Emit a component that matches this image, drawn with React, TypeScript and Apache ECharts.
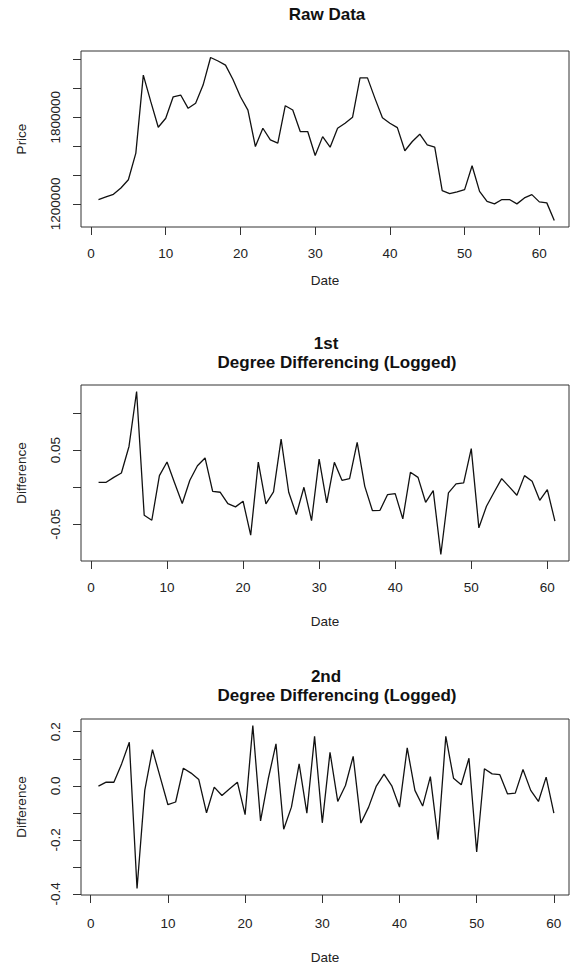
import React, { useEffect, useRef } from "react";
import * as echarts from "echarts";

// Raw monthly prices (index 1..62)
const rawPrice: number[] = [
  1230000, 1248000, 1266000, 1310000, 1367000, 1552000, 2092000, 1908000, 1731000, 1793000,
  1942000, 1954000, 1862000, 1897000, 2023000, 2214000, 2190000, 2161000, 2062000, 1942000,
  1850000, 1597000, 1724000, 1643000, 1621000, 1880000, 1850000, 1701000, 1701000, 1535000,
  1666000, 1593000, 1724000, 1759000, 1800000, 2073000, 2073000, 1931000, 1797000, 1759000,
  1728000, 1568000, 1632000, 1683000, 1609000, 1593000, 1292000, 1271000, 1283000, 1299000,
  1464000, 1287000, 1218000, 1200000, 1230000, 1230000, 1200000, 1241000, 1264000, 1214000,
  1207000, 1085000,
];

// 1st degree differencing of logged prices (index 1..61)
const diff1: number[] = [
  0.0067, 0.0067, 0.0134, 0.0193, 0.055, 0.129, -0.0376, -0.0444, 0.0157, 0.034,
  0.0059, -0.0219, 0.0094, 0.029, 0.0395, -0.0054, -0.0067, -0.0219, -0.0264, -0.0188,
  -0.0645, 0.034, -0.0223, -0.0062, 0.065, -0.0067, -0.0367, 0.0, -0.0448, 0.038,
  -0.021, 0.0336, 0.0094, 0.0117, 0.0605, 0.0013, -0.0313, -0.031, -0.0098, -0.0085,
  -0.0425, 0.0202, 0.0134, -0.0202, -0.0044, -0.0905, -0.0076, 0.0045, 0.0059, 0.052,
  -0.0546, -0.0255, -0.0067, 0.0117, 0.0005, -0.0108, 0.0157, 0.0081, -0.0175, -0.0031,
  -0.0457,
];

// 2nd degree differencing of logged prices (index 1..60)
const diff2: number[] = [
  -0.001, 0.0135, 0.013, 0.081, 0.161, -0.38, -0.017, 0.134, 0.032, -0.07,
  -0.06, 0.065, 0.047, 0.023, -0.1, -0.005, -0.036, -0.011, 0.0135, -0.107,
  0.223, -0.13, 0.026, 0.155, -0.161, -0.079, 0.081, -0.101, 0.183, -0.137,
  0.124, -0.058, 0.001, 0.109, -0.138, -0.079, -0.001, 0.043, 0.0, -0.079,
  0.14, -0.017, -0.075, 0.034, -0.199, 0.183, 0.028, 0.004, 0.102, -0.245,
  0.063, 0.044, 0.041, -0.03, -0.027, 0.06, -0.017, -0.058, 0.032, -0.101,
];

const xTicks: number[] = [0, 10, 20, 30, 40, 50, 60];
const priceTicks: number[] = [1200000, 1400000, 1600000, 1800000, 2000000, 2200000];
const priceLabels: number[] = [1200000, 1800000];
const diff1Ticks: number[] = [-0.05, 0, 0.05, 0.1];
const diff1Labels: number[] = [-0.05, 0.05];
const diff2Ticks: number[] = [-0.4, -0.3, -0.2, -0.1, 0, 0.1, 0.2];
const diff2Labels: number[] = [-0.4, -0.2, 0, 0.2];

const FONT = "'Liberation Sans', Arial, Helvetica, sans-serif";
const TXT = "#222";

// R style axis extension: range +/- 4%
function rng(vals: number[]) {
  const lo = Math.min(...vals);
  const hi = Math.max(...vals);
  const e = (hi - lo) * 0.04;
  return { min: lo - e, max: hi + e };
}

export default function App() {
  const ref = useRef<HTMLDivElement>(null);

  useEffect(() => {
    if (!ref.current) return;
    const chart = echarts.init(ref.current, undefined, { renderer: "svg" });

    const panels = [
      { data: rawPrice, top: 51, xMin: -1.34, xMax: 63.97, yTicks: priceTicks, yLabels: priceLabels, yName: "Price", fmt: (v: number) => String(Math.round(v)), xNameGap: 46, xLabMargin: 19 },
      { data: diff1, top: 385, xMin: -1.31, xMax: 62.85, yTicks: diff1Ticks, yLabels: diff1Labels, yName: "Difference", fmt: (v: number) => v.toFixed(2), xNameGap: 53, xLabMargin: 19 },
      { data: diff2, top: 719, xMin: -1.26, xMax: 61.96, yTicks: diff2Ticks, yLabels: diff2Labels, yName: "Difference", fmt: (v: number) => v.toFixed(1), xNameGap: 55, xLabMargin: 21 },
    ];

    const grids: any[] = [];
    const xAxes: any[] = [];
    const yAxes: any[] = [];
    const series: any[] = [];

    panels.forEach((p, k) => {
      const yr = rng(p.data);
      grids.push({
        left: 81,
        right: 8,
        top: p.top,
        height: 176,
        show: true,
        borderColor: "#333",
        borderWidth: 1,
        backgroundColor: "transparent",
        containLabel: false,
      });
      xAxes.push({
        type: "value",
        gridIndex: k,
        position: "bottom",
        min: p.xMin,
        max: p.xMax,
        axisLine: { show: false, onZero: false },
        splitLine: { show: false },
        axisTick: { show: true, length: 8, inside: false, customValues: xTicks, lineStyle: { color: "#333", width: 1 } },
        axisLabel: { show: true, customValues: xTicks, margin: p.xLabMargin, fontSize: 13.5, fontFamily: FONT, color: TXT, showMinLabel: true, showMaxLabel: true },
        name: "Date",
        nameLocation: "middle",
        nameGap: p.xNameGap,
        nameTextStyle: { fontSize: 13.5, fontFamily: FONT, color: TXT },
      });
      yAxes.push({
        type: "value",
        gridIndex: k,
        position: "left",
        min: yr.min,
        max: yr.max,
        axisLine: { show: false, onZero: false },
        splitLine: { show: false },
        axisTick: { show: true, length: 8, inside: false, customValues: p.yTicks, lineStyle: { color: "#333", width: 1 } },
        axisLabel: { show: true, customValues: p.yLabels, rotate: 90, margin: 19, fontSize: 13.5, fontFamily: FONT, color: TXT, formatter: p.fmt, showMinLabel: true, showMaxLabel: true },
        name: p.yName,
        nameLocation: "middle",
        nameGap: 53,
        nameTextStyle: { fontSize: 13.5, fontFamily: FONT, color: TXT },
      });
      series.push({
        type: "line",
        xAxisIndex: k,
        yAxisIndex: k,
        data: p.data.map((v, i) => [i + 1, v]),
        showSymbol: false,
        symbol: "none",
        lineStyle: { color: "#111", width: 1.3 },
        silent: true,
      });
    });

    const titleStyle = { fontSize: 17, fontWeight: "bold" as const, fontFamily: FONT, color: "#111", lineHeight: 19 };
    chart.setOption({
      animation: false,
      backgroundColor: "#fff",
      title: [
        { text: "Raw Data", left: 327, top: 5, textAlign: "center", padding: 0, textStyle: titleStyle },
        { text: "1st", left: 326, top: 334, textAlign: "center", padding: 0, textStyle: titleStyle },
        { text: "Degree Differencing (Logged)", left: 337, top: 353, textAlign: "center", padding: 0, textStyle: titleStyle },
        { text: "2nd", left: 326, top: 667, textAlign: "center", padding: 0, textStyle: titleStyle },
        { text: "Degree Differencing (Logged)", left: 337, top: 686, textAlign: "center", padding: 0, textStyle: titleStyle },
      ],
      grid: grids,
      xAxis: xAxes,
      yAxis: yAxes,
      series,
    });

    return () => chart.dispose();
  }, []);

  return (
    <div
      ref={ref}
      style={{ position: "fixed", left: 0, top: 0, width: 577, height: 965, background: "#fff" }}
    />
  );
}
